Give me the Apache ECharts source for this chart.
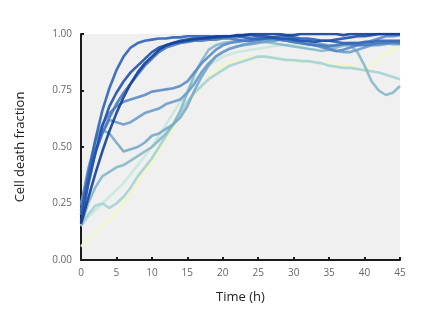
<!DOCTYPE html>
<html>
<head>
<meta charset="utf-8">
<script src="https://cdn.jsdelivr.net/npm/echarts@6/dist/echarts.min.js"></script>
<style>html,body{margin:0;padding:0;background:#fff;}#c{width:446px;height:333px;}</style>
</head>
<body>
<div id="c"></div>
<script>
const times = Array.from({length: 46}, (_, i) => i);
const xTicks = [0, 5, 10, 15, 20, 25, 30, 35, 40, 45];
const yTicks = [0, 0.25, 0.5, 0.75, 1];
const lineColors = ['#123f98','#1e50a8','#2f63b6','#4779c0','#5a8bc5','#6d9cc9','#78a8cb','#86b8c8','#a3d2d3','#c6e8dd','#f3f6c4'];
const lineA = [0.16,0.27,0.38,0.48,0.57,0.65,0.72,0.78,0.83,0.87,0.9,0.93,0.95,0.96,0.97,0.975,0.98,0.98,0.985,0.99,0.99,0.99,0.995,0.995,1,1,1,1,1,0.995,0.995,1,1,1,1,1,1,0.995,1,1,1,1,1,1,1,1];
const lineB = [0.17,0.33,0.47,0.59,0.68,0.74,0.79,0.83,0.86,0.89,0.92,0.94,0.95,0.96,0.965,0.97,0.975,0.98,0.98,0.985,0.99,0.99,0.99,0.995,0.995,0.99,0.99,0.985,0.98,0.98,0.975,0.97,0.97,0.965,0.97,0.97,0.975,0.98,0.985,0.99,0.99,0.995,1,1,1,1];
const lineC = [0.2,0.37,0.53,0.66,0.76,0.84,0.9,0.94,0.96,0.97,0.975,0.98,0.98,0.985,0.985,0.99,0.99,0.99,0.99,0.985,0.985,0.99,0.99,0.985,0.98,0.98,0.98,0.985,0.99,0.99,0.985,0.98,0.98,0.975,0.97,0.97,0.965,0.96,0.96,0.96,0.965,0.965,0.97,0.97,0.97,0.97];
const lineD = [0.22,0.36,0.47,0.56,0.63,0.69,0.74,0.78,0.82,0.86,0.89,0.92,0.94,0.95,0.96,0.965,0.97,0.97,0.975,0.975,0.98,0.98,0.975,0.97,0.97,0.975,0.98,0.98,0.975,0.97,0.965,0.96,0.955,0.95,0.95,0.945,0.95,0.955,0.955,0.95,0.95,0.955,0.96,0.96,0.965,0.96];
const lineE = [0.24,0.4,0.52,0.6,0.65,0.68,0.7,0.71,0.72,0.73,0.745,0.75,0.755,0.76,0.77,0.79,0.83,0.87,0.9,0.93,0.95,0.96,0.965,0.97,0.975,0.975,0.98,0.98,0.975,0.97,0.965,0.96,0.955,0.95,0.945,0.935,0.925,0.93,0.94,0.95,0.96,0.97,0.98,0.99,0.99,0.995];
const lineF = [0.25,0.38,0.48,0.56,0.62,0.61,0.6,0.61,0.63,0.65,0.66,0.67,0.69,0.7,0.71,0.74,0.78,0.83,0.87,0.9,0.92,0.935,0.945,0.955,0.96,0.965,0.97,0.97,0.975,0.975,0.97,0.965,0.96,0.95,0.94,0.93,0.925,0.92,0.92,0.93,0.94,0.95,0.955,0.96,0.955,0.955];
const lineG = [0.2,0.35,0.48,0.575,0.56,0.52,0.48,0.49,0.5,0.52,0.55,0.56,0.58,0.6,0.63,0.68,0.75,0.81,0.86,0.9,0.92,0.935,0.945,0.95,0.955,0.96,0.965,0.97,0.975,0.975,0.975,0.97,0.965,0.96,0.955,0.95,0.95,0.955,0.96,0.96,0.955,0.95,0.95,0.955,0.96,0.96];
const lineH = [0.15,0.25,0.32,0.37,0.39,0.41,0.42,0.44,0.46,0.48,0.5,0.53,0.56,0.6,0.66,0.74,0.82,0.88,0.93,0.95,0.96,0.965,0.97,0.97,0.975,0.97,0.965,0.96,0.955,0.95,0.945,0.94,0.935,0.93,0.925,0.93,0.94,0.95,0.95,0.92,0.86,0.79,0.75,0.73,0.74,0.77];
const lineI = [0.15,0.2,0.24,0.25,0.23,0.25,0.28,0.32,0.37,0.41,0.45,0.5,0.55,0.6,0.65,0.7,0.74,0.77,0.8,0.82,0.84,0.86,0.87,0.88,0.89,0.9,0.9,0.895,0.89,0.885,0.885,0.88,0.88,0.875,0.87,0.86,0.855,0.85,0.85,0.845,0.84,0.835,0.83,0.82,0.81,0.8];
const lineJ = [0.15,0.19,0.22,0.25,0.28,0.31,0.34,0.38,0.42,0.46,0.5,0.55,0.6,0.65,0.7,0.75,0.79,0.83,0.86,0.88,0.9,0.91,0.92,0.925,0.93,0.935,0.94,0.945,0.95,0.95,0.955,0.955,0.95,0.95,0.945,0.94,0.94,0.945,0.95,0.95,0.955,0.96,0.96,0.965,0.965,0.97];
const lineK = [0.06,0.09,0.12,0.15,0.18,0.21,0.25,0.29,0.34,0.39,0.43,0.48,0.53,0.58,0.63,0.68,0.73,0.77,0.81,0.84,0.86,0.875,0.885,0.89,0.895,0.9,0.9,0.895,0.89,0.885,0.88,0.88,0.875,0.875,0.87,0.87,0.865,0.86,0.86,0.85,0.84,0.86,0.89,0.91,0.93,0.95];
const allLines = [lineA,lineB,lineC,lineD,lineE,lineF,lineG,lineH,lineI,lineJ,lineK];
// draw light lines first so dark ones sit on top
const order = [10,9,8,7,6,5,4,3,2,1,0];
const series = order.map(i => ({
  type: 'line',
  data: times.map((t, k) => [t, allLines[i][k]]),
  showSymbol: false,
  smooth: false,
  lineStyle: {color: lineColors[i], width: 2.6, opacity: 0.9},
  silent: true
}));
const font = '"Open Sans", "DejaVu Sans", sans-serif';
const chart = echarts.init(document.getElementById('c'));
chart.setOption({
  animation: false,
  backgroundColor: '#ffffff',
  grid: {left: 81, right: 46, top: 34, bottom: 73, show: true, backgroundColor: '#f0f0f0', borderWidth: 0},
  xAxis: {
    type: 'value', min: xTicks[0], max: xTicks[xTicks.length-1], interval: 5,
    name: 'Time (h)', nameLocation: 'middle', nameGap: 31,
    nameTextStyle: {color: '#222', fontSize: 13, fontFamily: font},
    axisLine: {show: true, lineStyle: {color: '#1a1a1a', width: 2}},
    axisTick: {show: true, inside: true, length: 3, lineStyle: {color: '#1a1a1a', width: 2}},
    axisLabel: {color: '#666', fontSize: 10, fontFamily: font, margin: 8},
    splitLine: {show: false}
  },
  yAxis: {
    type: 'value', min: yTicks[0], max: yTicks[yTicks.length-1], interval: 0.25,
    name: 'Cell death fraction', nameLocation: 'middle', nameGap: 54,
    nameTextStyle: {color: '#222', fontSize: 13, fontFamily: font},
    axisLine: {show: true, lineStyle: {color: '#1a1a1a', width: 2}},
    axisTick: {show: true, inside: true, length: 3, lineStyle: {color: '#1a1a1a', width: 2}},
    axisLabel: {color: '#666', fontSize: 10, fontFamily: font, margin: 9, formatter: v => v.toFixed(2)},
    splitLine: {show: false}
  },
  series: series
});
</script>
</body>
</html>
